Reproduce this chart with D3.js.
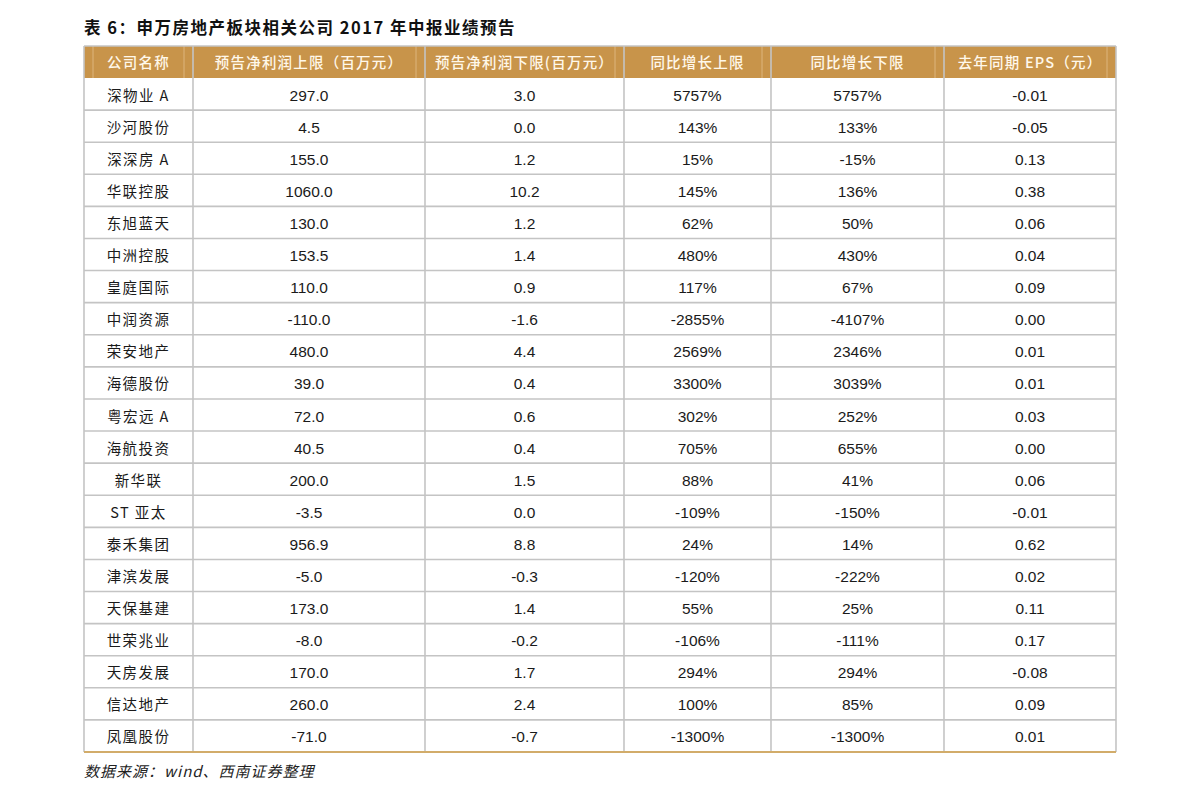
<!DOCTYPE html>
<html lang="zh">
<head>
<meta charset="utf-8">
<title>表6 申万房地产板块相关公司2017年中报业绩预告</title>
<script src="https://cdn.jsdelivr.net/npm/d3@7"></script>
<style>
  body { margin: 0; background: #fff; }
  svg text { font-family: "Liberation Sans", Arial, "Noto Sans CJK SC", sans-serif; }
  .cn { font-family: "Noto Sans CJK SC", sans-serif; }
</style>
</head>
<body>
<div id="chart"></div>
<script>
var W = 1191, H = 800;

// table data
var headers = ["公司名称", "预告净利润上限（百万元）", "预告净利润下限(百万元）", "同比增长上限", "同比增长下限", "去年同期 EPS（元）"];
var names = ["深物业 A", "沙河股份", "深深房 A", "华联控股", "东旭蓝天", "中洲控股", "皇庭国际", "中润资源", "荣安地产", "海德股份", "粤宏远 A", "海航投资", "新华联", "ST 亚太", "泰禾集团", "津滨发展", "天保基建", "世荣兆业", "天房发展", "信达地产", "凤凰股份"];
var profitUpper = [297.0, 4.5, 155.0, 1060.0, 130.0, 153.5, 110.0, -110.0, 480.0, 39.0, 72.0, 40.5, 200.0, -3.5, 956.9, -5.0, 173.0, -8.0, 170.0, 260.0, -71.0];
var profitLower = [3.0, 0.0, 1.2, 10.2, 1.2, 1.4, 0.9, -1.6, 4.4, 0.4, 0.6, 0.4, 1.5, 0.0, 8.8, -0.3, 1.4, -0.2, 1.7, 2.4, -0.7];
var growthUpper = [5757, 143, 15, 145, 62, 480, 117, -2855, 2569, 3300, 302, 705, 88, -109, 24, -120, 55, -106, 294, 100, -1300];
var growthLower = [5757, 133, -15, 136, 50, 430, 67, -4107, 2346, 3039, 252, 655, 41, -150, 14, -222, 25, -111, 294, 85, -1300];
var epsLast = [-0.01, -0.05, 0.13, 0.38, 0.06, 0.04, 0.09, 0.00, 0.01, 0.01, 0.03, 0.00, 0.06, -0.01, 0.62, 0.02, 0.11, 0.17, -0.08, 0.09, 0.01];

var f1 = d3.format(".1f"), f2 = d3.format(".2f");
function pct(v) { return v + "%"; }
function fix(s) { return s.replace("−", "-"); }

var columns = [
  { vals: names, fmt: function (d) { return d; }, cn: true },
  { vals: profitUpper, fmt: function (d) { return fix(f1(d)); } },
  { vals: profitLower, fmt: function (d) { return fix(f1(d)); } },
  { vals: growthUpper, fmt: pct },
  { vals: growthLower, fmt: pct },
  { vals: epsLast, fmt: function (d) { return fix(f2(d)); } }
];

// layout
var tLeft = 84, tRight = 1116, tTop = 46, headH = 32, tBottom = 752;
var edges = [84, 193, 425, 624, 771, 944, 1116];
var gold = "#C8944A", grid = "#c4c4c4";

var y = d3.scaleBand().domain(d3.range(names.length)).range([tTop + headH, tBottom]);

var svg = d3.select("#chart").append("svg").attr("width", W).attr("height", H);

// title
svg.append("text").attr("class", "cn")
  .attr("x", tLeft).attr("y", 34)
  .attr("font-size", 16.5).attr("font-weight", "bold").attr("fill", "#111")
  .attr("letter-spacing", 1.5)
  .text("表 6：申万房地产板块相关公司 2017 年中报业绩预告");

// header band
svg.append("rect").attr("x", tLeft).attr("y", tTop).attr("width", tRight - tLeft).attr("height", headH).attr("fill", gold);

// faint inner lines in header
var inner = [tLeft + 9].concat(edges.slice(1).map(function (e) { return e - 9; }));
svg.selectAll("line.inner").data(inner).enter().append("line")
  .attr("class", "inner")
  .attr("x1", function (d) { return d; }).attr("x2", function (d) { return d; })
  .attr("y1", tTop).attr("y2", tTop + headH)
  .attr("stroke", "#ddb57c").attr("stroke-width", 1);

// header text
svg.selectAll("text.head").data(headers).enter().append("text")
  .attr("class", "head cn")
  .attr("x", function (d, i) { return (edges[i] + edges[i + 1]) / 2; })
  .attr("y", tTop + headH / 2 + 5.5)
  .attr("text-anchor", "middle").attr("font-size", 14.5).attr("letter-spacing", 1.2)
  .attr("font-weight", 500)
  .attr("fill", "#fff8ea")
  .text(function (d) { return d; });

// horizontal grid lines
var hl = [tTop].concat(d3.range(names.length).map(function (i) { return y(i) + y.bandwidth(); }).slice(0, -1));
svg.selectAll("line.h").data(hl).enter().append("line")
  .attr("class", "h")
  .attr("x1", tLeft).attr("x2", tRight)
  .attr("y1", function (d) { return d; }).attr("y2", function (d) { return d; })
  .attr("stroke", grid).attr("stroke-width", 1.6);

// vertical lines
svg.selectAll("line.v").data(edges).enter().append("line")
  .attr("class", "v")
  .attr("x1", function (d) { return d; }).attr("x2", function (d) { return d; })
  .attr("y1", tTop).attr("y2", tBottom)
  .attr("stroke", grid).attr("stroke-width", 1.6);

// bottom gold rule
svg.append("line").attr("x1", tLeft).attr("x2", tRight).attr("y1", tBottom).attr("y2", tBottom)
  .attr("stroke", "#d2ac6a").attr("stroke-width", 2);

// cells
columns.forEach(function (col, c) {
  var cx = (edges[c] + edges[c + 1]) / 2;
  svg.selectAll("text.c" + c).data(col.vals).enter().append("text")
    .attr("class", "c" + c + (col.cn ? " cn" : ""))
    .attr("x", cx)
    .attr("y", function (d, i) { return y(i) + y.bandwidth() / 2 + 6.5; })
    .attr("text-anchor", "middle")
    .attr("font-size", col.cn ? 14.5 : 15.5)
    .attr("letter-spacing", col.cn ? 1.4 : 0)
    .attr("fill", "#1a1a1a")
    .text(function (d) { return col.fmt(d); });
});

// source
svg.append("text").attr("class", "cn")
  .attr("x", tLeft).attr("y", 777)
  .attr("font-size", 15).attr("font-style", "italic").attr("fill", "#222")
  .attr("letter-spacing", 1)
  .text("数据来源：wind、西南证券整理");
</script>
</body>
</html>
